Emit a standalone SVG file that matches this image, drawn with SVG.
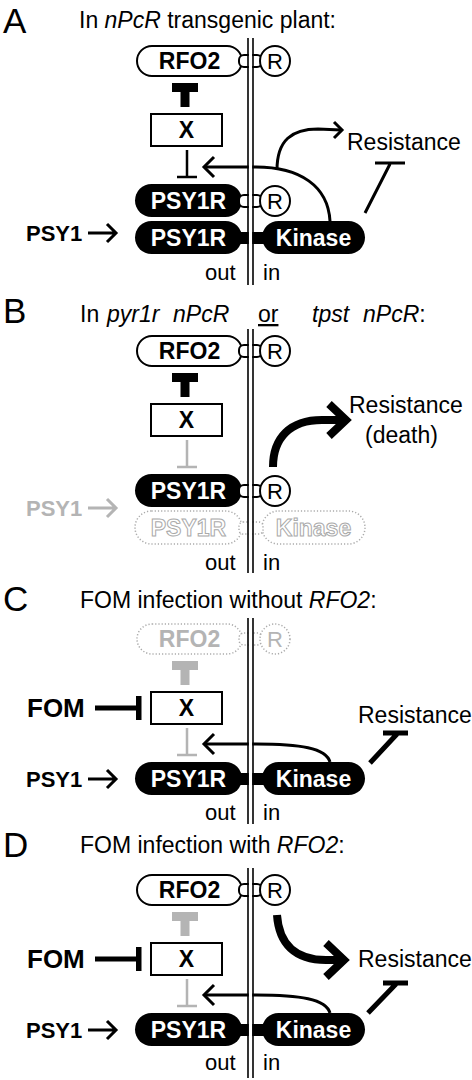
<svg xmlns="http://www.w3.org/2000/svg" width="472" height="1080" viewBox="0 0 472 1080">
<style>
text{font-family:"Liberation Sans",Arial,Helvetica,sans-serif}
.letter{font-size:35px}
.title{font-size:23px}
.it{font-style:italic}
.lbl{font-size:23px;font-weight:bold;text-anchor:middle}
.wt{fill:#fff}
.gt{fill:#b4b4b4}
.ot{fill:#fff;stroke:#aaa;stroke-width:1}
.r{font-size:22px;text-anchor:middle}
.res{font-size:23px}
.io{font-size:22px}
.psy{font-size:22px;font-weight:bold}
.fom{font-size:26px;font-weight:bold}
.pill{fill:#fff;stroke:#000;stroke-width:2}
.blk{fill:#000}
.gry{fill:#b4b4b4}
.dot{fill:#fff;stroke:#aaa;stroke-width:1.5;stroke-dasharray:1.2 2}
.memfill{fill:#fff}
.mem{stroke:#000;stroke-width:1.6}
.ln{fill:none;stroke:#000;stroke-width:3}
.gln{fill:none;stroke:#b4b4b4;stroke-width:3}
.thick{fill:none;stroke:#000;stroke-width:8}
.inh{fill:none;stroke:#000;stroke-width:2.5}
.ginh{fill:none;stroke:#b4b4b4;stroke-width:2.5}
.binh{fill:none;stroke:#000;stroke-width:5}
</style>

<!-- ================= PANEL A ================= -->
<g id="panelA">
  <text class="letter" x="3" y="33">A</text>
  <text class="title" x="79" y="28">In <tspan class="it">nPcR</tspan> transgenic plant:</text>
  <g id="A-connectors">
    <rect class="blk" x="172" y="83" width="26" height="9"/>
    <rect class="blk" x="180.5" y="91" width="9" height="16"/>
    <path class="inh" d="M187,150 V177 M177,177 H197"/>
    <path class="ln" d="M330,221 C328,186 300,167 256,167 L205,167"/>
    <path class="ln" d="M214,157 L204,167 L214,177" stroke-width="3.5"/>
    <path class="ln" d="M277,170 C277,140 292,129 318,129 L341,130"/>
    <path class="ln" d="M334,122 L342,130 L334,138"/>
    <path class="ln" stroke-width="1.5" d="M365,213 L390,164 M375,163 H405"/>
    <path class="ln" stroke-width="3.5" d="M88,233 H115 M107,224 L116,233 L107,242"/>
  </g>
  <g id="A-RFO2"><rect class="pill" x="137" y="46" width="105" height="30" rx="15"/><text class="lbl" x="189.5" y="69">RFO2</text></g>
  <g id="A-X"><rect class="pill" x="151" y="114" width="71" height="32"/><text class="lbl" x="186.5" y="138">X</text></g>
  <g id="A-PSY1R-top"><rect class="blk" x="135" y="184" width="107" height="33" rx="16.5"/><text class="lbl wt" x="188.5" y="209">PSY1R</text></g>
  <g id="A-PSY1R-bottom"><rect class="blk" x="135" y="221" width="107" height="33" rx="16.5"/><text class="lbl wt" x="188.5" y="246">PSY1R</text></g>
  <g id="A-Kinase"><rect class="blk" x="262" y="221" width="103" height="33" rx="16.5"/><text class="lbl wt" x="313.5" y="246">Kinase</text></g>
  <rect class="pill" x="239" y="55" width="23" height="12" rx="5"/>
  <rect class="pill" x="239" y="195" width="23" height="12" rx="5"/>
  <rect class="blk" x="237" y="232" width="28" height="12"/>
  <g id="A-membrane">
    <rect class="memfill" x="248.8" y="38" width="3.4" height="247"/>
    <line class="mem" x1="248" y1="38" x2="248" y2="285"/>
    <line class="mem" x1="253" y1="38" x2="253" y2="285"/>
  </g>
  <g id="A-R1"><circle class="pill" cx="275" cy="61" r="15"/><text class="r" x="275" y="69">R</text></g>
  <g id="A-R2"><circle class="pill" cx="275" cy="201" r="15"/><text class="r" x="275" y="209">R</text></g>
  <g id="A-PSY1"><text class="psy" x="26" y="241">PSY1</text></g>
  <g id="A-Resistance"><text class="res" x="347" y="150">Resistance</text></g>
  <text class="io" x="205" y="280">out</text><text class="io" x="263" y="280">in</text>
</g>

<!-- ================= PANEL B ================= -->
<g id="panelB" transform="translate(0,290)">
  <text class="letter" x="3" y="33">B</text>
  <text class="title" x="80" y="32">In <tspan class="it" x="107">pyr1r</tspan><tspan class="it" x="173">nPcR</tspan><tspan x="258" text-decoration="underline">or</tspan><tspan class="it" x="312">tpst</tspan><tspan class="it" x="363">nPcR</tspan>:</text>
  <g id="B-connectors">
    <rect class="blk" x="172" y="83" width="26" height="9"/>
    <rect class="blk" x="180.5" y="91" width="9" height="16"/>
    <path class="ginh" d="M187,150 V177 M177,177 H197"/>
    <path class="thick" d="M273,177 C273,148 290,130 322,130 L342,130"/>
    <path class="thick" d="M329,114 L346,130 L329,146"/>
    <path class="gln" stroke-width="3.5" d="M88,218 H115 M107,209 L116,218 L107,227"/>
  </g>
  <g id="B-RFO2"><rect class="pill" x="137" y="46" width="105" height="30" rx="15"/><text class="lbl" x="189.5" y="69">RFO2</text></g>
  <g id="B-X"><rect class="pill" x="151" y="114" width="71" height="32"/><text class="lbl" x="186.5" y="138">X</text></g>
  <g id="B-PSY1R"><rect class="blk" x="135" y="184" width="107" height="33" rx="16.5"/><text class="lbl wt" x="188.5" y="209">PSY1R</text></g>
  <g id="B-PSY1R-absent"><rect class="dot" x="135" y="221" width="107" height="33" rx="16.5"/><text class="lbl ot" x="188.5" y="246">PSY1R</text></g>
  <g id="B-Kinase-absent"><rect class="dot" x="262" y="221" width="103" height="33" rx="16.5"/><text class="lbl ot" x="313.5" y="246">Kinase</text></g>
  <rect class="pill" x="239" y="55" width="23" height="12" rx="5"/>
  <rect class="pill" x="239" y="195" width="23" height="12" rx="5"/>
  <rect class="dot" x="239" y="232" width="24" height="12" rx="4"/>
  <g id="B-membrane">
    <rect class="memfill" x="248.8" y="39" width="3.4" height="244"/>
    <line class="mem" x1="248" y1="39" x2="248" y2="283"/>
    <line class="mem" x1="253" y1="39" x2="253" y2="283"/>
  </g>
  <g id="B-R1"><circle class="pill" cx="275" cy="61" r="15"/><text class="r" x="275" y="69">R</text></g>
  <g id="B-R2"><circle class="pill" cx="275" cy="201" r="15"/><text class="r" x="275" y="209">R</text></g>
  <g id="B-PSY1"><text class="psy gt" x="26" y="226">PSY1</text></g>
  <g id="B-Resistance"><text class="res" x="349" y="123">Resistance</text><text class="res" x="365" y="153">(death)</text></g>
  <text class="io" x="205" y="280">out</text><text class="io" x="263" y="280">in</text>
</g>

<!-- ================= PANEL C ================= -->
<g id="panelC" transform="translate(0,578)">
  <text class="letter" x="3" y="33">C</text>
  <text class="title" x="80" y="30">FOM infection without <tspan class="it">RFO2</tspan>:</text>
  <g id="C-connectors">
    <rect class="gry" x="172" y="83" width="26" height="9"/>
    <rect class="gry" x="180.5" y="91" width="9" height="16"/>
    <path class="ginh" d="M187,150 V177 M177,177 H197"/>
    <path class="binh" d="M95,130 H137"/>
    <rect class="blk" x="136" y="118" width="5.5" height="24"/>
    <path class="ln" d="M330,184 C326,170 300,166 256,166 L205,166"/>
    <path class="ln" d="M214,156 L204,166 L214,176" stroke-width="3.5"/>
    <path class="binh" d="M370,185 L397,156 M383,155 H408"/>
    <path class="ln" stroke-width="3.5" d="M88,201 H115 M107,192 L116,201 L107,210"/>
  </g>
  <g id="C-RFO2-absent"><rect class="dot" x="137" y="46" width="105" height="30" rx="15"/><text class="lbl gt" x="189.5" y="69">RFO2</text></g>
  <g id="C-FOM"><text class="fom" x="27" y="139">FOM</text></g>
  <g id="C-X"><rect class="pill" x="151" y="114" width="71" height="32"/><text class="lbl" x="186.5" y="138">X</text></g>
  <g id="C-PSY1R"><rect class="blk" x="135" y="184" width="107" height="33" rx="16.5"/><text class="lbl wt" x="188.5" y="209">PSY1R</text></g>
  <g id="C-Kinase"><rect class="blk" x="262" y="184" width="103" height="33" rx="16.5"/><text class="lbl wt" x="313.5" y="209">Kinase</text></g>
  <rect class="dot" x="239" y="55" width="23" height="12" rx="5"/>
  <rect class="blk" x="237" y="195" width="28" height="12"/>
  <g id="C-membrane">
    <rect class="memfill" x="248.8" y="40" width="3.4" height="206"/>
    <line class="mem" x1="248" y1="40" x2="248" y2="246"/>
    <line class="mem" x1="253" y1="40" x2="253" y2="246"/>
  </g>
  <g id="C-R-absent"><circle class="dot" cx="275" cy="61" r="15"/><text class="r gt" x="275" y="69">R</text></g>
  <g id="C-PSY1"><text class="psy" x="26" y="209">PSY1</text></g>
  <g id="C-Resistance"><text class="res" x="358" y="145">Resistance</text></g>
  <text class="io" x="205" y="242">out</text><text class="io" x="263" y="242">in</text>
</g>

<!-- ================= PANEL D ================= -->
<g id="panelD" transform="translate(0,829)">
  <text class="letter" x="3" y="28">D</text>
  <text class="title" x="80" y="24">FOM infection with <tspan class="it">RFO2</tspan>:</text>
  <g id="D-connectors">
    <rect class="gry" x="172" y="83" width="26" height="9"/>
    <rect class="gry" x="180.5" y="91" width="9" height="16"/>
    <path class="ginh" d="M187,150 V177 M177,177 H197"/>
    <path class="binh" d="M95,130 H137"/>
    <rect class="blk" x="136" y="118" width="5.5" height="24"/>
    <path class="ln" d="M330,184 C326,170 300,166 256,166 L205,166"/>
    <path class="ln" d="M214,156 L204,166 L214,176" stroke-width="3.5"/>
    <path class="binh" d="M368,184 L396,155 M383,154 H408"/>
    <path class="thick" d="M277,86 C279,115 295,131 326,131 L340,131"/>
    <path class="thick" d="M326,114 L344,131 L326,148"/>
    <path class="ln" stroke-width="3.5" d="M88,201 H115 M107,192 L116,201 L107,210"/>
  </g>
  <g id="D-RFO2"><rect class="pill" x="137" y="46" width="105" height="30" rx="15"/><text class="lbl" x="189.5" y="69">RFO2</text></g>
  <g id="D-FOM"><text class="fom" x="27" y="139">FOM</text></g>
  <g id="D-X"><rect class="pill" x="151" y="114" width="71" height="32"/><text class="lbl" x="186.5" y="138">X</text></g>
  <g id="D-PSY1R"><rect class="blk" x="135" y="184" width="107" height="33" rx="16.5"/><text class="lbl wt" x="188.5" y="209">PSY1R</text></g>
  <g id="D-Kinase"><rect class="blk" x="262" y="184" width="103" height="33" rx="16.5"/><text class="lbl wt" x="313.5" y="209">Kinase</text></g>
  <rect class="pill" x="239" y="55" width="23" height="12" rx="5"/>
  <rect class="blk" x="237" y="195" width="28" height="12"/>
  <g id="D-membrane">
    <rect class="memfill" x="248.8" y="39" width="3.4" height="210"/>
    <line class="mem" x1="248" y1="39" x2="248" y2="249"/>
    <line class="mem" x1="253" y1="39" x2="253" y2="249"/>
  </g>
  <g id="D-R"><circle class="pill" cx="275" cy="61" r="15"/><text class="r" x="275" y="69">R</text></g>
  <g id="D-PSY1"><text class="psy" x="26" y="209">PSY1</text></g>
  <g id="D-Resistance"><text class="res" x="358" y="138">Resistance</text></g>
  <text class="io" x="205" y="241">out</text><text class="io" x="263" y="241">in</text>
</g>
</svg>
